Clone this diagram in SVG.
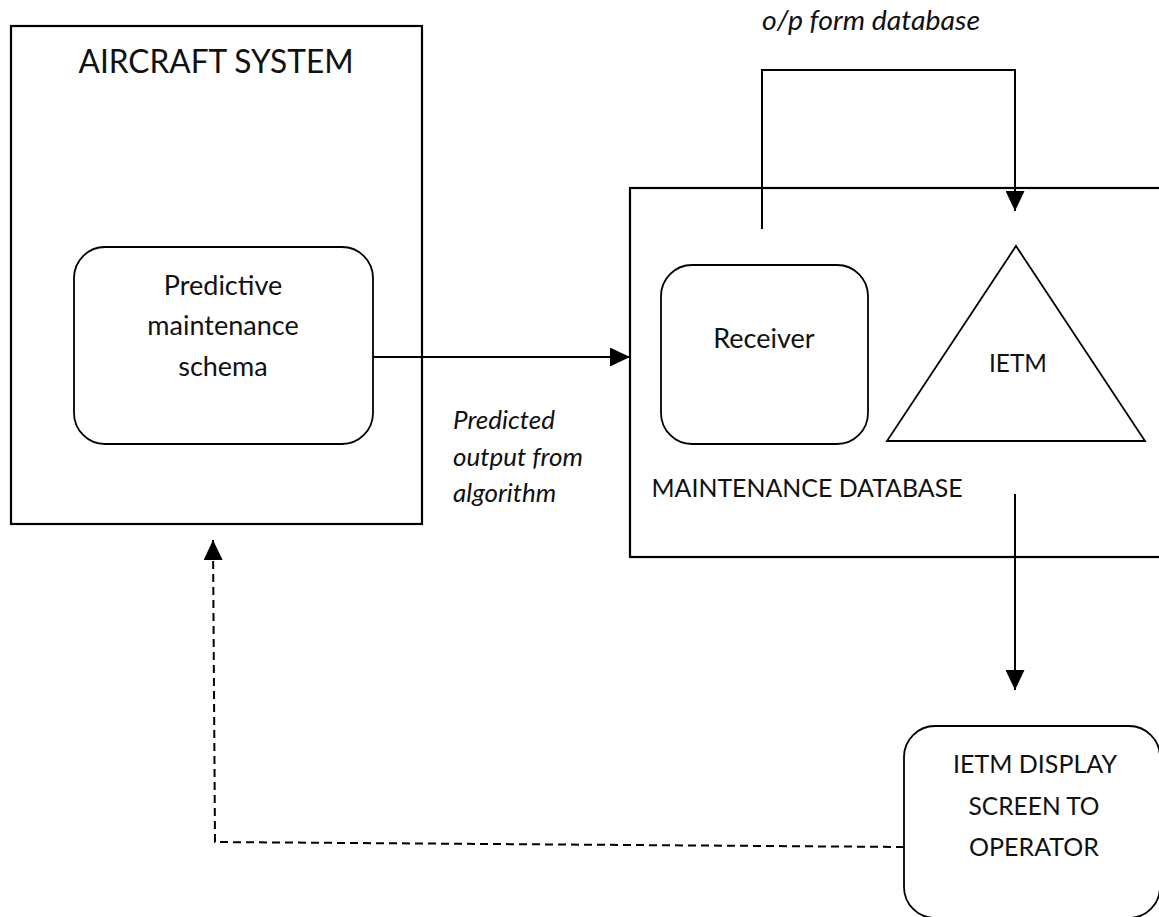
<svg xmlns="http://www.w3.org/2000/svg" width="1159" height="917" viewBox="0 0 1159 917">
  <style>
    .box { fill: none; stroke: #000; stroke-width: 2.2; }
    .shape { fill: none; stroke: #000; stroke-width: 1.8; }
    .lbl { font-family: Lato, "Liberation Sans", sans-serif; font-size: 27px; fill: #111; text-anchor: middle; }
    .caps { font-size: 25px; }
    .note { font-family: Lato, "Liberation Sans", sans-serif; font-size: 26px; font-style: italic; fill: #111; }
    .wire { fill: none; stroke: #000; stroke-width: 2; }
    .dash { fill: none; stroke: #000; stroke-width: 2; stroke-dasharray: 8 5; }
  </style>
  <defs>
    <marker id="head" viewBox="0 0 10 10" refX="10" refY="5" markerWidth="20" markerHeight="19" markerUnits="userSpaceOnUse" orient="auto" preserveAspectRatio="none">
      <path d="M0,0 L10,5 L0,10 Z" fill="#000"/>
    </marker>
  </defs>

  <rect width="1159" height="917" fill="#fff"/>

  <!-- Aircraft system -->
  <g id="aircraft-system">
    <rect class="box" x="11" y="26" width="411" height="498"/>
    <text class="lbl" x="216" y="73" style="font-size:32px" textLength="275" lengthAdjust="spacingAndGlyphs">AIRCRAFT SYSTEM</text>
  </g>

  <g id="predictive-schema">
    <rect class="shape" x="74" y="247" width="299" height="197" rx="31" ry="31"/>
    <text class="lbl" x="223" y="295">Predictive</text>
    <text class="lbl" x="223" y="335">maintenance</text>
    <text class="lbl" x="223" y="376">schema</text>
  </g>

  <!-- Maintenance database -->
  <g id="maintenance-database">
    <rect class="box" x="630" y="188" width="560" height="369"/>
    <text class="lbl caps" x="807" y="497" textLength="311" lengthAdjust="spacingAndGlyphs">MAINTENANCE DATABASE</text>
  </g>

  <g id="receiver">
    <rect class="shape" x="661" y="265" width="207" height="179" rx="31" ry="31"/>
    <text class="lbl" x="764" y="348">Receiver</text>
  </g>

  <g id="ietm">
    <polygon class="shape" points="1016,246 1145,441 887,441"/>
    <text class="lbl caps" x="1018" y="372" textLength="58" lengthAdjust="spacingAndGlyphs">IETM</text>
  </g>

  <g id="ietm-display">
    <rect class="shape" x="904" y="726" width="256" height="192" rx="31" ry="31"/>
    <text class="lbl caps" x="1035" y="773" textLength="164" lengthAdjust="spacingAndGlyphs">IETM DISPLAY</text>
    <text class="lbl caps" x="1034" y="815" textLength="131" lengthAdjust="spacingAndGlyphs">SCREEN TO</text>
    <text class="lbl caps" x="1034" y="856" textLength="130" lengthAdjust="spacingAndGlyphs">OPERATOR</text>
  </g>

  <!-- Connectors -->
  <g id="connectors">
    <path class="wire" d="M373,357 L630,357" marker-end="url(#head)"/>
    <path class="wire" d="M762,229 L762,70 L1015,70 L1015,211" marker-end="url(#head)"/>
    <path class="wire" d="M1015,494 L1015,690" marker-end="url(#head)"/>
    <path class="dash" d="M904,847 L215,842 L213,540" marker-end="url(#head)"/>
  </g>

  <!-- Connector labels -->
  <g id="labels">
    <text class="note" x="762" y="30" style="font-size:27px" textLength="218" lengthAdjust="spacingAndGlyphs">o/p form database</text>
    <text class="note" x="453" y="429">Predicted</text>
    <text class="note" x="453" y="466">output from</text>
    <text class="note" x="453" y="502">algorithm</text>
  </g>
</svg>
